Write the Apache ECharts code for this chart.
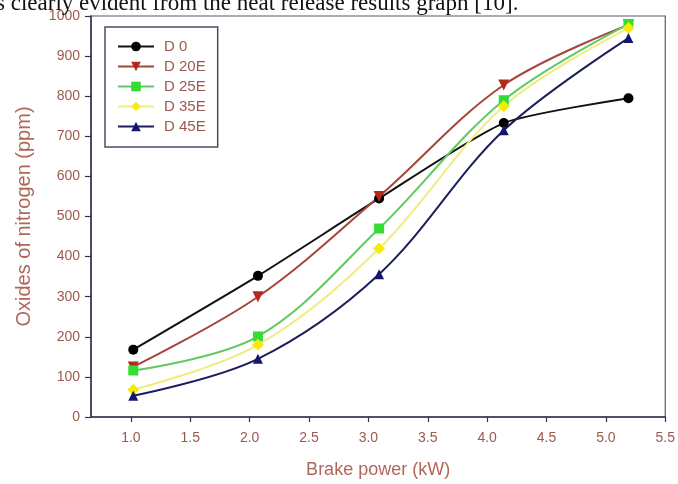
<!DOCTYPE html>
<html>
<head>
<meta charset="utf-8">
<script src="https://cdn.jsdelivr.net/npm/echarts@6/dist/echarts.min.js"></script>
<style>
  html, body { margin: 0; padding: 0; background: #ffffff; }
  #chart { width: 678px; height: 484px; }
</style>
</head>
<body>
<div id="chart"></div>
<script>
// Brake power (kW) at each test point
const brakePower = [1.02, 2.07, 3.09, 4.14, 5.19];

// NOx emissions (ppm) for each fuel blend
const noxD0   = [168, 352, 545, 733, 795];
const noxD20E = [125, 300, 550, 828, 978];
const noxD25E = [116, 201, 470, 790, 980];
const noxD35E = [68, 180, 420, 775, 970];
const noxD45E = [53, 145, 356, 715, 945];

const seriesNames = ['D 0', 'D 20E', 'D 25E', 'D 35E', 'D 45E'];
const xTickValues = [1.0, 1.5, 2.0, 2.5, 3.0, 3.5, 4.0, 4.5, 5.0, 5.5];

const labelColor = '#9b5a50';
const titleColor = '#b0675a';
const axisColor = '#2f3452';

function pairs(ys) {
  return brakePower.map((x, i) => [x, ys[i]]);
}

const chart = echarts.init(document.getElementById('chart'), null, { renderer: 'canvas' });

const lineSeries = (name, data, lineColor, markColor, symbol, size, rotate, smooth) => ({
  name: name,
  type: 'line',
  data: pairs(data),
  smooth: smooth,
  symbol: symbol,
  symbolSize: size,
  symbolRotate: rotate,
  showSymbol: true,
  lineStyle: { color: lineColor, width: 2 },
  itemStyle: { color: markColor, borderWidth: 0 },
  emphasis: { disabled: true },
  z: 3
});

chart.setOption({
  animation: false,
  backgroundColor: '#ffffff',
  textStyle: { fontFamily: 'Liberation Sans, Arial, sans-serif' },
  grid: {
    left: 91, right: 12, top: 16, bottom: 67,
    show: true, borderColor: '#555a6c', borderWidth: 1.2
  },
  graphic: [{
    type: 'text',
    left: -4,
    top: -8,
    style: {
      text: 's clearly evident from the heat release results graph [10].',
      font: '23px "Liberation Serif", "Times New Roman", serif',
      fill: '#111111'
    },
    z: 100
  }],
  legend: {
    orient: 'vertical',
    left: 105,
    top: 27,
    padding: [12, 12, 13, 12],
    itemWidth: 36,
    itemHeight: 12,
    itemGap: 5,
    backgroundColor: '#ffffff',
    borderColor: '#4a4e62',
    borderWidth: 1.5,
    borderRadius: 0,
    textStyle: { color: labelColor, fontSize: 15, padding: [0, 0, 0, 5] },
    data: seriesNames
  },
  xAxis: {
    type: 'value',
    min: 0.664,
    max: 5.5,
    name: 'Brake power (kW)',
    nameLocation: 'middle',
    nameGap: 44,
    nameTextStyle: { color: titleColor, fontSize: 18 },
    axisLine: { show: true, lineStyle: { color: axisColor, width: 1.5 } },
    axisTick: { show: true, length: 5, lineStyle: { color: axisColor, width: 1.2 }, customValues: xTickValues },
    axisLabel: {
      color: labelColor, fontSize: 14, margin: 14,
      customValues: xTickValues,
      formatter: v => v.toFixed(1)
    },
    splitLine: { show: false }
  },
  yAxis: {
    type: 'value',
    min: 0,
    max: 1000,
    interval: 100,
    name: 'Oxides of nitrogen (ppm)',
    nameLocation: 'middle',
    nameGap: 57,
    nameTextStyle: { color: titleColor, fontSize: 20 },
    axisLine: { show: true, lineStyle: { color: axisColor, width: 1.5 } },
    axisTick: { show: true, length: 6, lineStyle: { color: axisColor, width: 1.2 } },
    axisLabel: { color: labelColor, fontSize: 14, margin: 11, formatter: v => String(v) },
    splitLine: { show: false }
  },
  series: [
    lineSeries('D 0',   noxD0,   '#111111', '#000000', 'circle',   10, 0,   0.2),
    lineSeries('D 20E', noxD20E, '#a6443a', '#b0281e', 'triangle', 11, 180, 0.35),
    lineSeries('D 25E', noxD25E, '#62c862', '#33dd33', 'rect',     10, 0,   0.35),
    lineSeries('D 35E', noxD35E, '#f1ec80', '#f5ea10', 'diamond',  12, 0,   0.35),
    lineSeries('D 45E', noxD45E, '#1b1e5c', '#16166e', 'triangle', 10, 0,   0.35)
  ]
});
</script>
</body>
</html>
